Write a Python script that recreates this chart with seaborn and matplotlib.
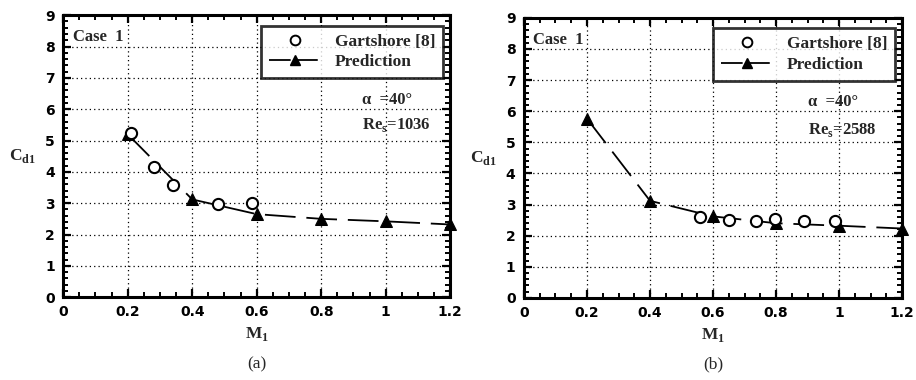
import numpy as np
import pandas as pd
import seaborn as sns
import matplotlib.pyplot as plt
from matplotlib.ticker import MultipleLocator
from matplotlib.lines import Line2D

sns.set_theme(style="white")
plt.rcParams['font.family'] = ['Liberation Serif', 'DejaVu Serif']

# Panel (a): Re = 1036
exp_a_m = [0.21, 0.28, 0.34, 0.48, 0.585]
exp_a_c = [5.24, 4.16, 3.58, 2.97, 3.0]
pred_a_m = [0.2, 0.4, 0.6, 0.8, 1.0, 1.2]
pred_a_c = [5.2, 3.12, 2.65, 2.5, 2.42, 2.32]

# Panel (b): Re = 2588
exp_b_m = [0.56, 0.65, 0.735, 0.795, 0.887, 0.987]
exp_b_c = [2.59, 2.51, 2.48, 2.55, 2.46, 2.48]
pred_b_m = [0.2, 0.4, 0.6, 0.8, 1.0, 1.2]
pred_b_c = [5.76, 3.12, 2.62, 2.4, 2.32, 2.23]

xticks = [0, 0.2, 0.4, 0.6, 0.8, 1.0, 1.2]
xticklabels = ["0", "0.2", "0.4", "0.6", "0.8", "1", "1.2"]
yticks = list(range(10))

panels = [
    dict(exp_m=exp_a_m, exp_c=exp_a_c, pred_m=pred_a_m, pred_c=pred_a_c,
         re="1036", tag="(a)", rect=[0.069, 0.218, 0.4225, 0.742],
         tx=0.773, ty=(0.70, 0.61)),
    dict(exp_m=exp_b_m, exp_c=exp_b_c, pred_m=pred_b_m, pred_c=pred_b_c,
         re="2588", tag="(b)", rect=[0.572, 0.216, 0.413, 0.737],
         tx=0.751, ty=(0.70, 0.60)),
]

fig = plt.figure(figsize=(9.16, 3.8), dpi=100)
fig.patch.set_facecolor("white")

sans = ['DejaVu Sans']

for p in panels:
    ax = fig.add_axes(p["rect"])
    pred = pd.DataFrame({"M": p["pred_m"], "C": p["pred_c"]})
    exp = pd.DataFrame({"M": p["exp_m"], "C": p["exp_c"]})

    sns.lineplot(data=pred, x="M", y="C", ax=ax, color="black", lw=1.3,
                 dashes=False, marker="^", markersize=8, markeredgecolor="black",
                 zorder=3, clip_on=False)
    for ln in ax.get_lines():
        ln.set_dashes([17, 6])
    sns.scatterplot(data=exp, x="M", y="C", ax=ax, marker="o", s=65,
                    facecolor="white", edgecolor="black", linewidth=1.5,
                    zorder=4, clip_on=False)

    ax.set_xlim(0, 1.2)
    ax.set_ylim(0, 9)
    ax.set_xticks(xticks)
    ax.set_xticklabels(xticklabels)
    ax.set_yticks(yticks)
    ax.xaxis.set_minor_locator(MultipleLocator(0.05))
    ax.yaxis.set_minor_locator(MultipleLocator(0.2))
    ax.tick_params(which="both", direction="in", top=True, right=True,
                   bottom=True, left=True, color="black")
    ax.tick_params(which="major", length=6, width=1.6, pad=6)
    ax.tick_params(which="minor", length=3.5, width=1.4)
    for lab in ax.get_xticklabels() + ax.get_yticklabels():
        lab.set_family(sans)
        lab.set_fontweight("bold")
        lab.set_fontsize(10)
        lab.set_color("black")
    ax.grid(True, which="major", color="black", linestyle=(0, (1, 2.5)), lw=0.9)
    for s in ax.spines.values():
        s.set_linewidth(2.2)
        s.set_color("black")

    ax.set_xlabel(r"M$_{\mathregular{1}}$", fontsize=12.5, labelpad=4,
                  fontweight="bold")
    ax.set_ylabel(r"C$_{\mathregular{d1}}$", fontsize=12.5, rotation=0,
                  labelpad=16, va="center", fontweight="bold")

    ax.text(0.025, 0.95, "Case  1", transform=ax.transAxes, fontsize=12,
            fontweight="bold", va="top", ha="left")
    ax.text(p["tx"], p["ty"][0], "\u03b1  =40\u00b0", transform=ax.transAxes,
            fontsize=12, ha="left", va="center", fontweight="bold")
    ax.text(p["tx"], p["ty"][1], r"Re$_{\mathregular{s}}$=" + p["re"],
            transform=ax.transAxes, fontsize=12, ha="left", va="center",
            fontweight="bold")

    handles = [
        Line2D([], [], ls="none", marker="o", markerfacecolor="white",
               markeredgecolor="black", markersize=7, markeredgewidth=1.4),
        Line2D([], [], color="black", lw=1.3, dashes=[12, 3], marker="^",
               markersize=7),
    ]
    leg = ax.legend(handles, ["Gartshore [8]", "Prediction"], loc="upper right",
                    bbox_to_anchor=(0.99, 0.975), frameon=True, fancybox=False,
                    edgecolor="black", handlelength=3.0, handletextpad=0.8,
                    borderpad=0.45, labelspacing=0.25, borderaxespad=0.2,
                    prop=dict(size=12.5, weight="bold"))
    leg.get_frame().set_linewidth(2.0)
    leg.set_zorder(6)

    xc = p["rect"][0] + p["rect"][2] / 2
    fig.text(xc, 0.04, p["tag"], ha="center", va="center", fontsize=12.5)

fig.savefig("out.png", dpi=100, facecolor="white")
